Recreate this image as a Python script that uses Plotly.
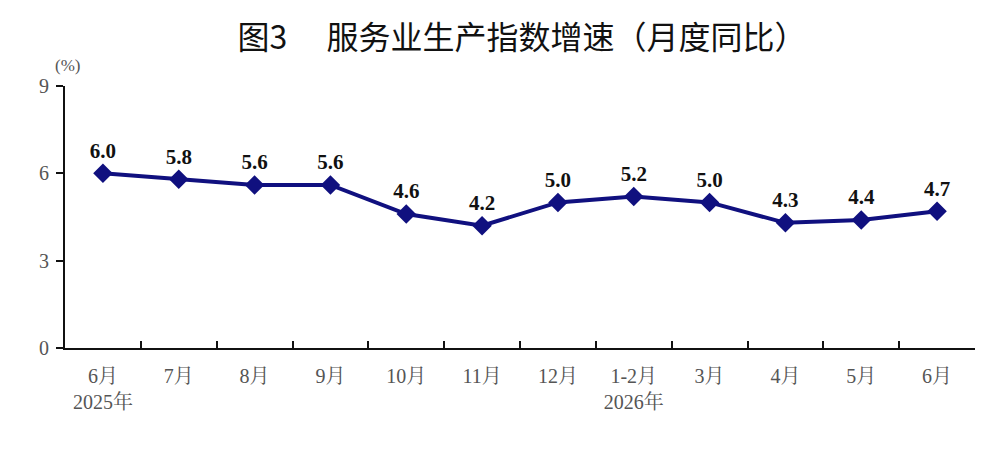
import plotly.graph_objects as go

categories = ["6月<br>2025年", "7月", "8月", "9月", "10月", "11月", "12月",
              "1-2月<br>2026年", "3月", "4月", "5月", "6月"]
values = [6.0, 5.8, 5.6, 5.6, 4.6, 4.2, 5.0, 5.2, 5.0, 4.3, 4.4, 4.7]
y_ticks = [0, 3, 6, 9]
title_text = "图3　 服务业生产指数增速（月度同比）"
unit_text = "(%)"

serif = "Liberation Serif, Noto Serif CJK SC, Noto Sans CJK SC, serif"

fig = go.Figure()
fig.add_trace(go.Scatter(
    x=categories, y=values,
    mode="lines+markers+text",
    line=dict(color="#10107f", width=4),
    marker=dict(symbol="diamond", size=15, color="#10107f"),
    text=[f"{v:.1f}" for v in values],
    textposition="top center",
    textfont=dict(family=serif, size=21, color="#111111", weight="bold"),
    cliponaxis=False,
    hoverinfo="skip",
))

fig.update_layout(
    width=1000, height=467,
    margin=dict(l=65, r=25, t=86, b=119, autoexpand=False),
    paper_bgcolor="white", plot_bgcolor="white",
    showlegend=False,
    title=dict(text=title_text, x=0.522, xanchor="center", y=0.92, yanchor="middle",
               font=dict(family="Noto Sans CJK SC, sans-serif", size=32, color="#111111")),
    xaxis=dict(
        type="category", range=[-0.5, len(categories) - 0.5],
        tickson="boundaries", ticks="inside", ticklen=7,
        tickwidth=2, tickcolor="#111111",
        showline=True, linecolor="#111111", linewidth=2,
        showgrid=False, zeroline=False, automargin=False,
        ticklabelstandoff=9,
        tickfont=dict(family=serif, size=20, color="#555555"),
    ),
    yaxis=dict(
        range=[0, 9], tickvals=y_ticks, ticks="outside", ticklen=7,
        tickwidth=2, tickcolor="#111111",
        showline=True, linecolor="#111111", linewidth=2,
        showgrid=False, zeroline=False, automargin=False,
        ticklabelstandoff=3,
        tickfont=dict(family=serif, size=20, color="#555555"),
    ),
    annotations=[dict(text=unit_text, xref="paper", yref="paper", x=0.003, y=1.035,
                      xanchor="center", yanchor="bottom", showarrow=False,
                      font=dict(family=serif, size=17, color="#555555"))],
)

fig.write_html("out.html", config={"displayModeBar": False},
               post_script="document.body.style.margin='0';")
